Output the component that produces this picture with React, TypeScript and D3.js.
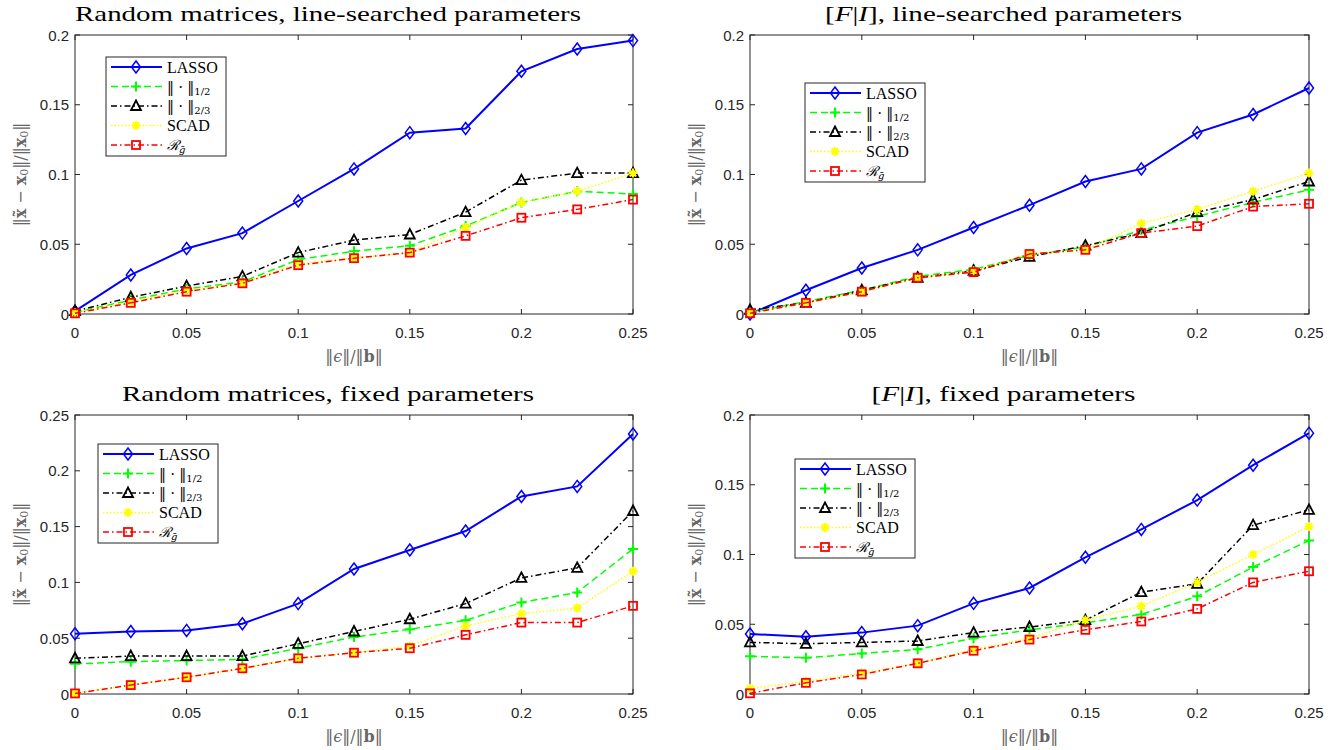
import React from "react";
import * as d3 from "d3";

// noise level ||eps|| / ||b||
const epsRatio = [0, 0.025, 0.05, 0.075, 0.1, 0.125, 0.15, 0.175, 0.2, 0.225, 0.25];

// Random matrices, line-searched parameters
const rmLsLasso = [0.002, 0.028, 0.047, 0.058, 0.081, 0.104, 0.13, 0.133, 0.174, 0.19, 0.196];
const rmLsHalf = [0.001, 0.01, 0.018, 0.023, 0.039, 0.045, 0.049, 0.063, 0.08, 0.088, 0.086];
const rmLsTwoThirds = [0.002, 0.012, 0.02, 0.027, 0.044, 0.053, 0.057, 0.073, 0.096, 0.101, 0.101];
const rmLsScad = [0.001, 0.009, 0.017, 0.022, 0.036, 0.04, 0.044, 0.062, 0.08, 0.088, 0.101];
const rmLsRg = [0.0005, 0.008, 0.016, 0.022, 0.035, 0.04, 0.044, 0.056, 0.069, 0.075, 0.082];

// [F|I], line-searched parameters
const fiLsLasso = [0.0, 0.017, 0.033, 0.046, 0.062, 0.078, 0.095, 0.104, 0.13, 0.143, 0.162];
const fiLsHalf = [0.001, 0.009, 0.017, 0.027, 0.032, 0.042, 0.048, 0.06, 0.07, 0.08, 0.089];
const fiLsTwoThirds = [0.003, 0.008, 0.017, 0.026, 0.031, 0.041, 0.049, 0.058, 0.073, 0.082, 0.095];
const fiLsScad = [0.001, 0.008, 0.016, 0.026, 0.031, 0.043, 0.046, 0.065, 0.075, 0.088, 0.101];
const fiLsRg = [0.0005, 0.008, 0.016, 0.026, 0.03, 0.043, 0.046, 0.058, 0.063, 0.077, 0.079];

// Random matrices, fixed parameters
const rmFixLasso = [0.054, 0.056, 0.057, 0.063, 0.081, 0.112, 0.129, 0.146, 0.177, 0.186, 0.233];
const rmFixHalf = [0.027, 0.029, 0.03, 0.031, 0.041, 0.051, 0.058, 0.066, 0.082, 0.091, 0.13];
const rmFixTwoThirds = [0.032, 0.034, 0.034, 0.034, 0.045, 0.056, 0.067, 0.081, 0.104, 0.113, 0.164];
const rmFixScad = [0.0005, 0.008, 0.015, 0.023, 0.032, 0.037, 0.043, 0.061, 0.072, 0.077, 0.11];
const rmFixRg = [0.0005, 0.008, 0.015, 0.023, 0.032, 0.037, 0.041, 0.053, 0.064, 0.064, 0.079];

// [F|I], fixed parameters
const fiFixLasso = [0.043, 0.041, 0.044, 0.049, 0.065, 0.076, 0.098, 0.118, 0.139, 0.164, 0.187];
const fiFixHalf = [0.027, 0.026, 0.029, 0.032, 0.04, 0.046, 0.051, 0.057, 0.07, 0.091, 0.11];
const fiFixTwoThirds = [0.037, 0.036, 0.037, 0.038, 0.044, 0.048, 0.053, 0.073, 0.079, 0.121, 0.132];
const fiFixScad = [0.004, 0.009, 0.015, 0.022, 0.032, 0.04, 0.053, 0.063, 0.08, 0.1, 0.12];
const fiFixRg = [0.0005, 0.008, 0.014, 0.022, 0.031, 0.039, 0.046, 0.052, 0.061, 0.08, 0.088];

const xTicks = [0, 0.05, 0.1, 0.15, 0.2, 0.25];
const yTicks20 = [0, 0.05, 0.1, 0.15, 0.2];
const yTicks25 = [0, 0.05, 0.1, 0.15, 0.2, 0.25];

// line style per method: colour, dash, marker
const styles = [
  { color: "#0000ff", dash: "", width: 2, marker: "diamond" },
  { color: "#00ff00", dash: "7,4", width: 1.5, marker: "plus" },
  { color: "#000000", dash: "6,3,1.5,3", width: 1.5, marker: "triangle" },
  { color: "#ffff00", dash: "1.5,2", width: 1.5, marker: "star" },
  { color: "#ff0000", dash: "6,3,1.5,3", width: 1.5, marker: "square" },
];

const panels = [
  { title: "rmLs", yMax: 0.2, yTicks: yTicks20, data: [rmLsLasso, rmLsHalf, rmLsTwoThirds, rmLsScad, rmLsRg] },
  { title: "fiLs", yMax: 0.2, yTicks: yTicks20, data: [fiLsLasso, fiLsHalf, fiLsTwoThirds, fiLsScad, fiLsRg] },
  { title: "rmFix", yMax: 0.25, yTicks: yTicks25, data: [rmFixLasso, rmFixHalf, rmFixTwoThirds, rmFixScad, rmFixRg] },
  { title: "fiFix", yMax: 0.2, yTicks: yTicks20, data: [fiFixLasso, fiFixHalf, fiFixTwoThirds, fiFixScad, fiFixRg] },
];

// axes boxes and legend boxes (pixels)
const layout = [
  { left: 75, right: 633, top: 35, legX: 106, legY: 57, titleW: 506 },
  { left: 750, right: 1309, top: 35, legX: 805, legY: 83, titleW: 357 },
  { left: 75, right: 633, top: 415, legX: 98, legY: 444, titleW: 412 },
  { left: 750, right: 1309, top: 415, legX: 795, legY: 459, titleW: 264 },
];
const plotH = 279;

const serif = "'Liberation Serif', 'DejaVu Serif', serif";
const mathSerif = "'DejaVu Serif', serif";
const sans = "'Liberation Sans', Arial, sans-serif";
const axisColor = "#262626";
const labelColor = "#666";

function Marker({ kind, x, y, color }: { kind: string; x: number; y: number; color: string }) {
  const common = { fill: "none", stroke: color, strokeWidth: 1.5 };
  if (kind === "diamond") {
    return <path d={`M${x},${y - 6}L${x + 4.5},${y}L${x},${y + 6}L${x - 4.5},${y}Z`} {...common} />;
  }
  if (kind === "plus") {
    return <path d={`M${x - 5},${y}H${x + 5}M${x},${y - 5}V${y + 5}`} {...common} strokeWidth={2} />;
  }
  if (kind === "triangle") {
    return <path d={`M${x},${y - 5.5}L${x + 5},${y + 4}L${x - 5},${y + 4}Z`} {...common} strokeWidth={1.8} />;
  }
  if (kind === "star") {
    const r = 4.5;
    const d2 = r * 0.72;
    return (
      <path
        d={`M${x - r},${y}H${x + r}M${x},${y - r}V${y + r}M${x - d2},${y - d2}L${x + d2},${y + d2}M${x - d2},${y + d2}L${x + d2},${y - d2}`}
        {...common}
        strokeWidth={2}
      />
    );
  }
  return <rect x={x - 4} y={y - 4} width={8} height={8} {...common} strokeWidth={1.8} />;
}

function Title({ kind, x, y, w }: { kind: string; x: number; y: number; w: number }) {
  const props = {
    x,
    y,
    textAnchor: "middle" as const,
    fontFamily: serif,
    fontSize: 22,
    fill: "#000",
    textLength: w,
    lengthAdjust: "spacingAndGlyphs" as const,
  };
  if (kind === "rmLs") return <text {...props}>Random matrices, line-searched parameters</text>;
  if (kind === "rmFix") return <text {...props}>Random matrices, fixed parameters</text>;
  const rest = kind === "fiLs" ? "], line-searched parameters" : "], fixed parameters";
  return (
    <text {...props}>
      [<tspan fontStyle="italic">F</tspan>|<tspan fontStyle="italic">I</tspan>
      {rest}
    </text>
  );
}

function LegendLabel({ i, x, y }: { i: number; x: number; y: number }) {
  const base = { x, y, fontFamily: serif, fontSize: 16, fill: "#000", dominantBaseline: "central" as const };
  if (i === 0) return <text {...base}>LASSO</text>;
  if (i === 3) return <text {...base}>SCAD</text>;
  if (i === 4)
    return (
      <text {...base} fontFamily={mathSerif}>
        <tspan fontStyle="italic" fontSize={14}>ℛ</tspan>
        <tspan fontSize={10} dy={4} fontStyle="italic">ḡ</tspan>
      </text>
    );
  return (
    <text {...base} fontFamily={mathSerif} fontSize={14}>
      ‖ · ‖<tspan fontSize={10} dy={4}>{i === 1 ? "1/2" : "2/3"}</tspan>
    </text>
  );
}

function Panel({ p, l }: { p: (typeof panels)[number]; l: (typeof layout)[number] }) {
  const x = d3.scaleLinear().domain([0, 0.25]).range([l.left, l.right]);
  const y = d3.scaleLinear().domain([0, p.yMax]).range([l.top + plotH, l.top]);
  const line = d3
    .line<number>()
    .x((_, i) => x(epsRatio[i]))
    .y((v) => y(v));
  const bottom = l.top + plotH;
  const cx = (l.left + l.right) / 2;
  const cy = l.top + plotH / 2;
  const tick = 5;
  const legW = 120;
  const legH = 99;

  return (
    <g>
      <Title kind={p.title} x={cx - 26} y={l.top - 14} w={l.titleW} />
      <rect x={l.left} y={l.top} width={l.right - l.left} height={plotH} fill="#fff" stroke={axisColor} strokeWidth={1} />
      {xTicks.map((t) => (
        <g key={"x" + t}>
          <line x1={x(t)} x2={x(t)} y1={bottom} y2={bottom - tick} stroke={axisColor} />
          <line x1={x(t)} x2={x(t)} y1={l.top} y2={l.top + tick} stroke={axisColor} />
          <text x={x(t)} y={bottom + 24} textAnchor="middle" fontFamily={sans} fontSize={15} fill={axisColor}>
            {d3.format("~g")(t)}
          </text>
        </g>
      ))}
      {p.yTicks.map((t) => (
        <g key={"y" + t}>
          <line x1={l.left} x2={l.left + tick} y1={y(t)} y2={y(t)} stroke={axisColor} />
          <line x1={l.right} x2={l.right - tick} y1={y(t)} y2={y(t)} stroke={axisColor} />
          <text
            x={l.left - 6}
            y={y(t)}
            textAnchor="end"
            dominantBaseline="central"
            fontFamily={sans}
            fontSize={15}
            fill={axisColor}
          >
            {d3.format("~g")(t)}
          </text>
        </g>
      ))}
      {p.data.map((series, si) => {
        const s = styles[si];
        return (
          <g key={si}>
            <path d={line(series) || ""} fill="none" stroke={s.color} strokeWidth={s.width} strokeDasharray={s.dash} />
            {series.map((v, i) => (
              <Marker key={i} kind={s.marker} x={x(epsRatio[i])} y={y(v)} color={s.color} />
            ))}
          </g>
        );
      })}
      <g>
        <rect x={l.legX} y={l.legY} width={legW} height={legH} fill="#fff" stroke={axisColor} strokeWidth={1} />
        {styles.map((s, i) => {
          const ry = l.legY + 10 + i * 19.5;
          return (
            <g key={i}>
              <line
                x1={l.legX + 5}
                x2={l.legX + 56}
                y1={ry}
                y2={ry}
                stroke={s.color}
                strokeWidth={s.width}
                strokeDasharray={s.dash}
              />
              <Marker kind={s.marker} x={l.legX + 30} y={ry} color={s.color} />
              <LegendLabel i={i} x={l.legX + 61} y={ry} />
            </g>
          );
        })}
      </g>
      <text
        transform={`translate(${l.left - 55},${cy}) rotate(-90)`}
        textAnchor="middle"
        dominantBaseline="central"
        fontFamily={mathSerif}
        fontSize={16}
        fill={labelColor}
      >
        ‖<tspan fontWeight="bold">x̃</tspan> − <tspan fontWeight="bold">x</tspan>
        <tspan fontSize={11} dy={4}>0</tspan>
        <tspan dy={-4}>‖/‖</tspan>
        <tspan fontWeight="bold">x</tspan>
        <tspan fontSize={11} dy={4}>0</tspan>
        <tspan dy={-4}>‖</tspan>
      </text>
      <text
        x={cx}
        y={bottom + 42}
        textAnchor="middle"
        dominantBaseline="central"
        fontFamily={mathSerif}
        fontSize={16}
        fill={labelColor}
      >
        ‖<tspan fontStyle="italic">ϵ</tspan>‖/‖<tspan fontWeight="bold">b</tspan>‖
      </text>
    </g>
  );
}

export default function App() {
  return (
    <div style={{ position: "fixed", left: 0, top: 0 }}>
      <svg width={1338} height={750} viewBox="0 0 1338 750" style={{ display: "block", background: "#fff" }}>
        {panels.map((p, i) => (
          <Panel key={p.title} p={p} l={layout[i]} />
        ))}
      </svg>
    </div>
  );
}
